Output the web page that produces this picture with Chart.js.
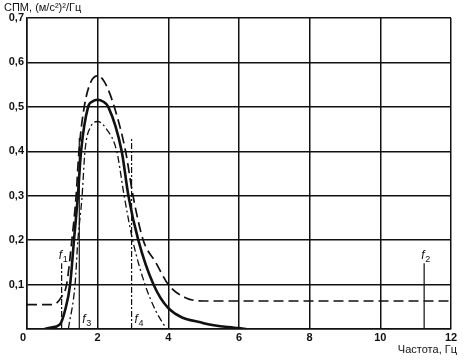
<!DOCTYPE html>
<html>
<head>
<meta charset="utf-8">
<script src="https://cdn.jsdelivr.net/npm/chart.js@4"></script>
<style>
  body { margin: 0; background: #fff; }
  #wrap { width: 466px; height: 362px; }
</style>
</head>
<body>
<div id="wrap"><canvas id="spectrum"></canvas></div>
<script>
// values
const solidFreq = [0.5, 0.65, 0.93, 1.08, 1.22, 1.33, 1.44, 1.53, 1.73, 1.85, 2.0, 2.15, 2.3, 2.68, 2.87, 3.15, 3.58, 4.0, 5.0, 6.0, 6.2];
const solidPsd  = [0, 0.003, 0.01, 0.043, 0.1, 0.2, 0.3, 0.4, 0.5, 0.512, 0.516, 0.512, 0.5, 0.4, 0.3, 0.2, 0.1, 0.047, 0.013, 0.002, 0];

const dashFreq = [0, 0.75, 0.98, 1.12, 1.27, 1.39, 1.47, 1.62, 1.8, 2.0, 2.2, 2.47, 2.79, 3.0, 3.29, 3.65, 4.0, 4.5, 5.0, 12];
const dashPsd  = [0.055, 0.055, 0.073, 0.1, 0.2, 0.3, 0.4, 0.5, 0.555, 0.57, 0.555, 0.5, 0.4, 0.3, 0.2, 0.149, 0.1, 0.07, 0.063, 0.063];

const dotFreq = [1.17, 1.36, 1.44, 1.56, 1.64, 1.8, 2.0, 2.25, 2.54, 2.75, 2.99, 3.34, 3.65, 3.95];
const dotPsd  = [0, 0.1, 0.2, 0.3, 0.4, 0.455, 0.467, 0.45, 0.4, 0.3, 0.2, 0.1, 0.04, 0];

// frequency markers f1..f4: position and line height
const markerNames = ['1', '3', '4', '2'];
const markerFreq  = [0.98, 1.48, 2.96, 11.24];
const markerTop   = [0.148, 0.43, 0.43, 0.148];
const markerDash  = [[6, 2, 2, 2], [], [6, 2, 2, 2], []];

const xTicks = [0, 2, 4, 6, 8, 10, 12];
const yTicks = [0, 0.1, 0.2, 0.3, 0.4, 0.5, 0.6, 0.7];

const toPoints = (xs, ys) => xs.map((x, i) => ({ x: x, y: ys[i] }));

const markerSets = markerFreq.map((f, i) => ({
  data: [{ x: f, y: 0 }, { x: f, y: markerTop[i] }],
  borderColor: '#111',
  borderWidth: 1.2,
  borderDash: markerDash[i],
  pointRadius: 0
}));

const font = 'Liberation Sans, Arial, sans-serif';

// labels f1..f4, corner zero, axis titles
const labelsPlugin = {
  id: 'labels',
  afterDraw(chart) {
    const { ctx, scales: { x, y } } = chart;
    ctx.save();
    ctx.fillStyle = '#111';
    const offs = [-3, 3, 3, -3];
    markerFreq.forEach((f, i) => {
      const px = x.getPixelForValue(f) + offs[i];
      const py = (i === 1 || i === 2) ? y.getPixelForValue(0) - 6 : y.getPixelForValue(markerTop[i]) - 4;
      ctx.font = 'italic 12px ' + font;
      ctx.textAlign = 'left';
      ctx.textBaseline = 'alphabetic';
      ctx.fillText('f', px, py);
      ctx.font = '9px ' + font;
      ctx.fillText(markerNames[i], px + 4, py + 3);
    });
    ctx.font = 'bold 11px ' + font;
    ctx.textAlign = 'center';
    ctx.textBaseline = 'top';
    ctx.fillText('0', x.left - 4, y.bottom + 3);
    ctx.font = '11px ' + font;
    ctx.textAlign = 'right';
    ctx.fillText('Частота, Гц', 457, 344);
    ctx.textAlign = 'left';
    ctx.fillText('СПМ, (м/с²)²/Гц', 4, 2);
    ctx.restore();
  }
};

new Chart(document.getElementById('spectrum'), {
  type: 'line',
  data: {
    datasets: [
      {
        data: toPoints(dashFreq, dashPsd),
        borderColor: '#111',
        borderWidth: 1.7,
        borderDash: [10, 5],
        pointRadius: 0,
        cubicInterpolationMode: 'monotone'
      },
      {
        data: toPoints(solidFreq, solidPsd),
        borderColor: '#111',
        borderWidth: 2.6,
        pointRadius: 0,
        cubicInterpolationMode: 'monotone'
      },
      {
        data: toPoints(dotFreq, dotPsd),
        borderColor: '#111',
        borderWidth: 1.3,
        borderDash: [7, 3, 2, 3],
        pointRadius: 0,
        cubicInterpolationMode: 'monotone'
      },
      ...markerSets
    ]
  },
  options: {
    responsive: true,
    maintainAspectRatio: false,
    animation: false,
    layout: { padding: { left: 0, right: 15, top: 18, bottom: 0 } },
    plugins: {
      legend: { display: false },
      tooltip: { enabled: false }
    },
    scales: {
      x: {
        type: 'linear',
        min: 0,
        max: 12,
        afterBuildTicks: (axis) => { axis.ticks = xTicks.map(v => ({ value: v })); },
        afterFit: (axis) => { axis.height = 33; },
        ticks: {
          color: '#111',
          font: { family: font, size: 11, weight: 'bold' },
          padding: 2,
          maxRotation: 0,
          callback: (v) => v === 0 ? '' : String(v)
        },
        grid: { color: '#111', lineWidth: 1.5, drawTicks: false },
        border: { color: '#111', width: 1.5 }
      },
      y: {
        min: 0,
        max: 0.7,
        afterBuildTicks: (axis) => { axis.ticks = yTicks.map(v => ({ value: v })); },
        afterFit: (axis) => { axis.width = 27; },
        ticks: {
          color: '#111',
          font: { family: font, size: 11, weight: 'bold' },
          padding: 3,
          callback: (v) => v === 0 ? '' : v.toFixed(1).replace('.', ',')
        },
        grid: { color: '#111', lineWidth: 1.5, drawTicks: false },
        border: { color: '#111', width: 1.5 }
      }
    }
  },
  plugins: [labelsPlugin]
});
</script>
</body>
</html>
